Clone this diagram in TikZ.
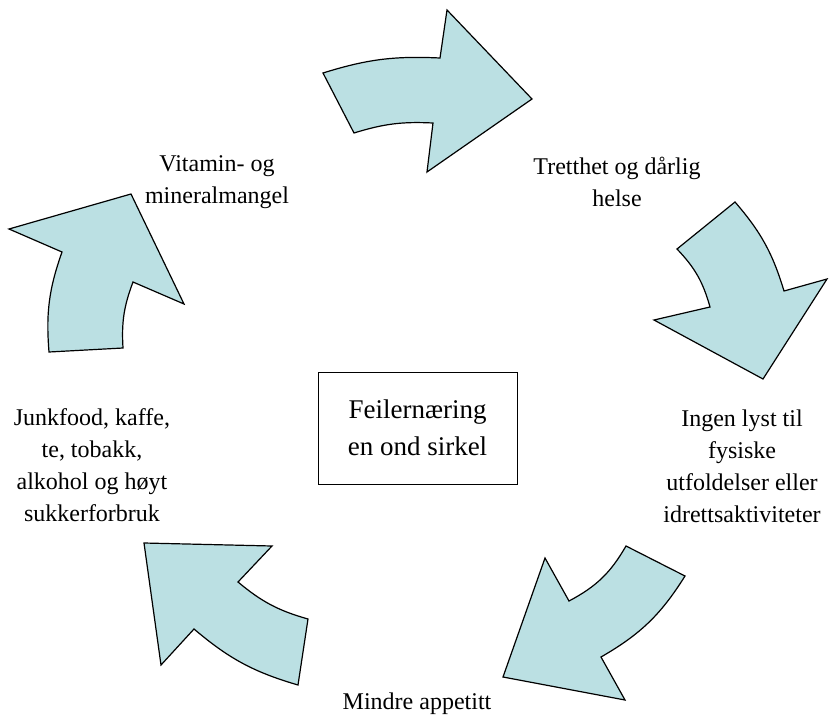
\documentclass[tikz,border=0pt]{standalone}
\usepackage{fontspec}
\setmainfont{Liberation Serif}
\usetikzlibrary{positioning}
\definecolor{arrowfill}{RGB}{187,224,227}

\begin{document}
\begin{tikzpicture}[x=1pt, y=-1pt,
    label/.style={align=center, font=\fontsize{24}{32}\selectfont},
    bigarrow/.style={draw=black, line width=1.2pt, fill=arrowfill, line join=miter}]
    \useasboundingbox (0,0) rectangle (829,717);

    % the five arrows round the circle
    \draw[bigarrow] (323,73) to[bend left=10] (440,58) -- (447,10) -- (532,99)
        -- (427,172) -- (433,123) to[bend right=10] (354,133) -- cycle;
    \draw[bigarrow] (735,202) to[bend left=12] (784,291) -- (827,279) -- (763,379)
        -- (654,320) -- (710,307) to[bend right=14] (677,249) -- cycle;
    \draw[bigarrow] (685,576) to[bend left=14] (601,657) -- (625,700) -- (503,677)
        -- (545,558) -- (569,601) to[bend right=16] (626,546) -- cycle;
    \draw[bigarrow] (144,543) -- (272,546) -- (238,582) to[bend right=12] (308,619)
        -- (298,685) to[bend left=12] (194,629) -- (161,665) -- cycle;
    \draw[bigarrow] (9,229) -- (131,194) -- (184,304) -- (133,282) to[bend right=12] (123,348)
        -- (49,352) to[bend left=12] (62,252) -- cycle;

    \node[draw, line width=0.8pt, minimum width=199pt, minimum height=112pt,
        align=center, font=\fontsize{27}{37}\selectfont] (sirkel) at (417.5,428)
        {Feilernæring\\en ond sirkel};

    \node[label] (vitamin) at (217,182) {Vitamin- og\\mineralmangel};
    \node[label] (tretthet) at (617,182) {Tretthet og dårlig\\helse};
    \node[label] (lyst) at (742,466) {Ingen lyst til\\fysiske\\utfoldelser eller\\idrettsaktiviteter};
    \node[label] (appetitt) at (417,704) {Mindre appetitt};
    \node[label] (junk) at (92,465) {Junkfood, kaffe,\\te, tobakk,\\alkohol og høyt\\sukkerforbruk};
\end{tikzpicture}
\end{document}
